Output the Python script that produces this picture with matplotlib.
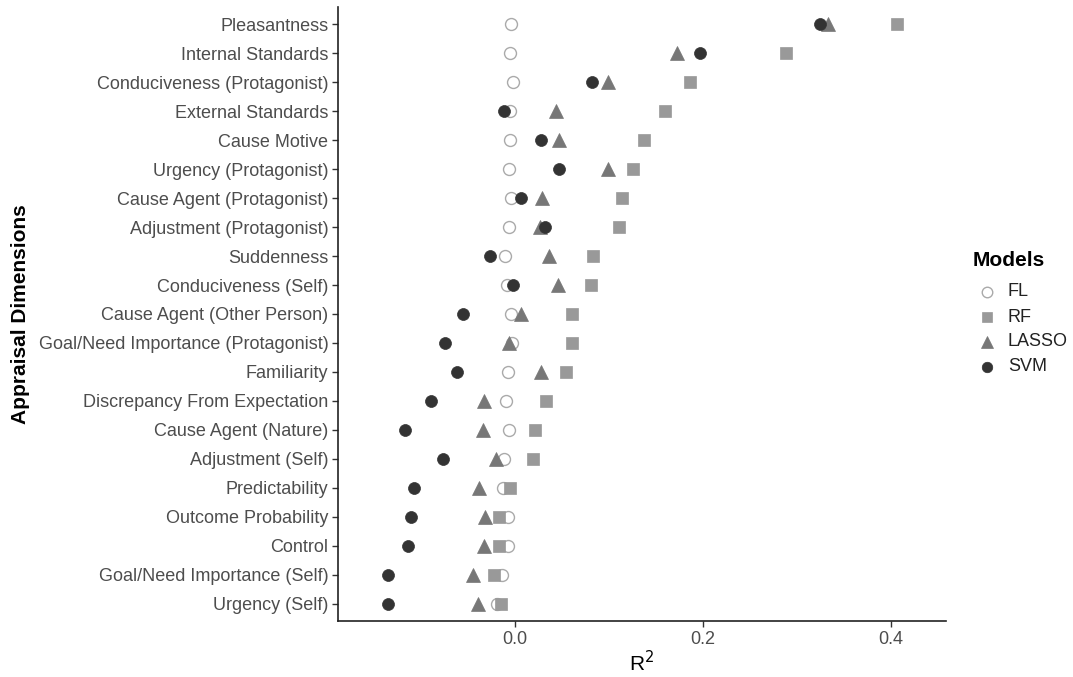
import matplotlib
matplotlib.use("Agg")
import matplotlib.pyplot as plt
from matplotlib.lines import Line2D

plt.rcParams['font.family'] = ['Liberation Sans', 'DejaVu Sans']

dimensions = [
    "Pleasantness", "Internal Standards", "Conduciveness (Protagonist)",
    "External Standards", "Cause Motive", "Urgency (Protagonist)",
    "Cause Agent (Protagonist)", "Adjustment (Protagonist)", "Suddenness",
    "Conduciveness (Self)", "Cause Agent (Other Person)",
    "Goal/Need Importance (Protagonist)", "Familiarity",
    "Discrepancy From Expectation", "Cause Agent (Nature)", "Adjustment (Self)",
    "Predictability", "Outcome Probability", "Control",
    "Goal/Need Importance (Self)", "Urgency (Self)",
]

fl = [-0.004, -0.005, -0.002, -0.005, -0.005, -0.007, -0.004, -0.006, -0.011,
      -0.009, -0.004, -0.003, -0.008, -0.010, -0.007, -0.012, -0.013, -0.008,
      -0.008, -0.014, -0.019]
rf = [0.406, 0.288, 0.186, 0.159, 0.137, 0.125, 0.114, 0.111, 0.083, 0.081,
      0.061, 0.061, 0.054, 0.033, 0.021, 0.019, -0.005, -0.017, -0.017,
      -0.022, -0.015]
lasso = [0.333, 0.172, 0.099, 0.043, 0.047, 0.099, 0.029, 0.026, 0.036, 0.046,
         0.006, -0.007, 0.027, -0.033, -0.034, -0.020, -0.038, -0.032, -0.033,
         -0.045, -0.040]
svm = [0.324, 0.197, 0.082, -0.012, 0.027, 0.047, 0.006, 0.032, -0.027, -0.002,
       -0.056, -0.075, -0.062, -0.090, -0.117, -0.077, -0.108, -0.111, -0.114,
       -0.135, -0.135]

models = ["FL", "RF", "LASSO", "SVM"]
x_ticks = [0.0, 0.2, 0.4]
x_ticklabels = ["0.0", "0.2", "0.4"]

W, H = 1073, 677
fig = plt.figure(figsize=(W / 100, H / 100), dpi=100)
ax = fig.add_axes([338 / W, 1 - 621 / H, (946 - 338) / W, (621 - 7) / H])

n = len(dimensions)
ypos = list(range(n))

ms = 8.6
styles = [
    dict(marker='o', markersize=ms, markerfacecolor='white',
         markeredgecolor='#AAAAAA', markeredgewidth=1.0),
    dict(marker='s', markersize=ms * 0.95, markerfacecolor='#999999',
         markeredgecolor='#999999', markeredgewidth=0.5),
    dict(marker='^', markersize=ms * 1.15, markerfacecolor='#777777',
         markeredgecolor='#777777', markeredgewidth=0.5),
    dict(marker='o', markersize=ms, markerfacecolor='#333333',
         markeredgecolor='#333333', markeredgewidth=0.5),
]
for i, (vals, st) in enumerate(zip([fl, rf, lasso, svm], styles)):
    ax.plot(vals, ypos, linestyle='none', zorder=3 + i, **st)

ax.set_ylim(n - 0.4, -0.6)
ax.set_xlim(-0.1885, 0.4585)
ax.set_yticks(ypos)
ax.set_yticklabels(dimensions)
ax.set_xticks(x_ticks)
ax.set_xticklabels(x_ticklabels)

for s in ['top', 'right']:
    ax.spines[s].set_visible(False)
for s in ['left', 'bottom']:
    ax.spines[s].set_color('#222222')
    ax.spines[s].set_linewidth(1.2)
ax.tick_params(axis='both', colors='#333333', labelcolor='#4D4D4D',
               labelsize=13, length=4, width=1.0, pad=3)

ax.set_xlabel("R$^2$", fontsize=15, color='black', labelpad=2)
ax.set_ylabel("Appraisal Dimensions", fontsize=15, fontweight='bold',
              color='black', labelpad=6)

# legend drawn in figure pixel coordinates
def fx(px):
    return px / W

def fy(py):
    return 1 - py / H

fig.text(fx(973), fy(260), "Models", fontsize=15, fontweight='bold',
         color='black', ha='left', va='center')
leg_y = [292, 317, 342, 367]
leg_styles = [dict(st) for st in styles]
for st in leg_styles:
    st['markersize'] = st['markersize'] * 0.88
for label, st, py in zip(models, leg_styles, leg_y):
    fig.add_artist(Line2D([fx(987)], [fy(py)], linestyle='none',
                          transform=fig.transFigure, **st))
    fig.text(fx(1008), fy(py), label, fontsize=13, color='#222222',
             ha='left', va='center')

fig.savefig("out.png", dpi=100)
